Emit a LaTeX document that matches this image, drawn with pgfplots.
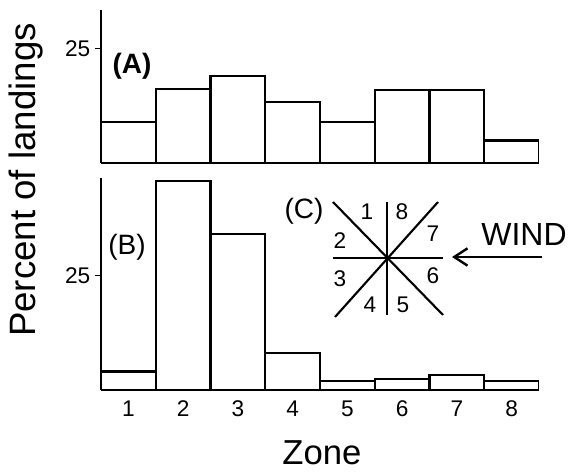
\documentclass[border=0pt]{standalone}
\usepackage{pgfplots}
\pgfplotsset{compat=1.18}
\usepackage{fontspec}
\setmainfont{Liberation Sans}
\usetikzlibrary{arrows.meta}
\pgfplotstableread{
x y
0.5 8.95
1.5 16.2
2.5 19.0
3.5 13.3
4.5 8.95
5.5 15.9
6.5 15.9
7.5 4.9
8.5 4.9
}\dataA
\pgfplotstableread{
x y
0.5 4.0
1.5 45.7
2.5 34.1
3.5 8.1
4.5 2.0
5.5 2.4
6.5 3.3
7.5 2.0
8.5 2.0
}\dataB
\begin{document}
\begin{tikzpicture}
\useasboundingbox (0,0) rectangle (433.5pt,-354.75pt);
\pgfplotsset{
  panel/.style={
    scale only axis,
    width=328.5pt,
    xmin=0.5, xmax=8.5,
    ymin=0,
    axis x line=bottom,
    axis y line=left,
    axis line style={-, line width=1.8pt},
    tick align=outside,
    major tick length=4.5pt,
    ytick={25},
    xtick={1,...,8},
    x tick style={draw=none},
    y tick style={line width=1.4pt, black},
    /pgf/number format/assume math mode=true,
    tick label style={font=\fontsize{17}{17}\selectfont},
  }
}
\begin{axis}[panel, at={(75.75pt,-122.25pt)}, anchor=south west,
  height=114.75pt, ymax=33.4, xticklabels={}]
\addplot[ybar interval, fill=white, draw=black, line width=1.8pt] table[x=x,y=y] {\dataA};
\end{axis}
\begin{axis}[panel, at={(75.75pt,-292.5pt)}, anchor=south west,
  height=159pt, ymax=46.3]
\addplot[ybar interval, fill=white, draw=black, line width=1.8pt] table[x=x,y=y] {\dataB};
\end{axis}
\begin{scope}[x=0.75pt, y=-0.75pt]
\node[rotate=90, font=\fontsize{27.5}{27.5}\selectfont] at (26,180) {Percent of landings};
\node[font=\fontsize{26}{26}\selectfont] at (322,453) {Zone};
\node[font=\fontsize{21}{21}\selectfont\bfseries] at (132,66) {(A)};
\node[font=\fontsize{21}{21}\selectfont] at (127,247) {(B)};
\node[font=\fontsize{21}{21}\selectfont] at (304,211) {(C)};
\draw[line width=1.6pt] (333,258) -- (443,258);
\draw[line width=1.6pt] (387,202) -- (387,315);
\draw[line width=1.6pt] (333,202) -- (443,315);
\draw[line width=1.6pt] (335,317) -- (438,202);
\begin{scope}[font=\fontsize{17}{17}\selectfont]
\node at (367,212) {1};
\node at (402,212) {8};
\node at (340,241) {2};
\node at (433,234) {7};
\node at (340,279) {3};
\node at (433,276) {6};
\node at (370,305) {4};
\node at (403,305) {5};
\end{scope}
\draw[line width=1.8pt, -{Straight Barb[length=10pt,width=13pt,line width=1.8pt]}] (542,257) -- (452,257);
\node[font=\fontsize{24}{24}\selectfont] at (524,234) {WIND};
\end{scope}
\end{tikzpicture}
\end{document}
